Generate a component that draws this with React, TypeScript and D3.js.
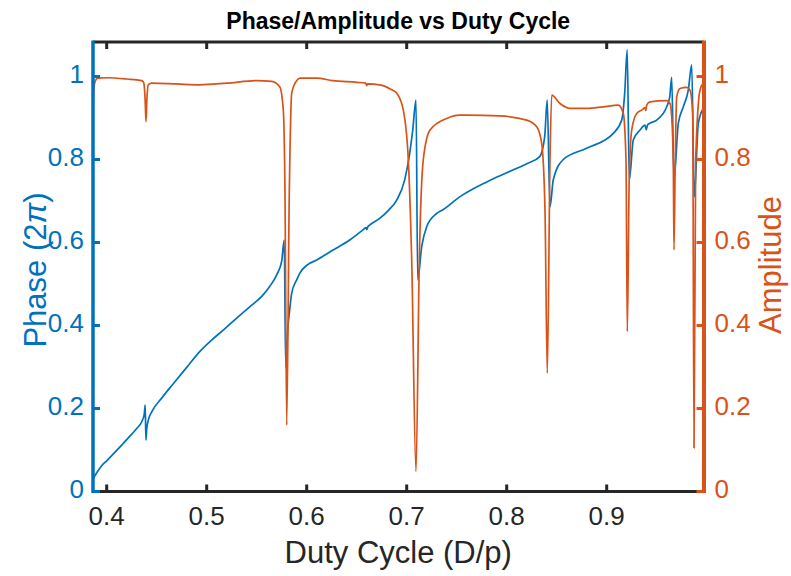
import React from "react";
import * as d3 from "d3";

const title = "Phase/Amplitude vs Duty Cycle";
const xLabel = "Duty Cycle (D/p)";
const xTicks = [0.4, 0.5, 0.6, 0.7, 0.8, 0.9];
const yTicks = [0, 0.2, 0.4, 0.6, 0.8, 1];
const yTickLabels = ["0", "0.2", "0.4", "0.6", "0.8", "1"];

// Phase (left axis, units of 2π)
const phaseData: [number, number][] = [
  [0.3863, 0.03], [0.39, 0.045], [0.395, 0.062], [0.4, 0.074], [0.41, 0.099],
  [0.42, 0.125], [0.43, 0.152], [0.435, 0.168], [0.4375, 0.185], [0.4385, 0.208],
  [0.4392, 0.124], [0.44, 0.15], [0.442, 0.175], [0.445, 0.192], [0.455, 0.225],
  [0.467, 0.261], [0.48, 0.299], [0.493, 0.337], [0.505, 0.365], [0.518, 0.392],
  [0.53, 0.418], [0.543, 0.445], [0.555, 0.47], [0.563, 0.494], [0.57, 0.522],
  [0.575, 0.555], [0.5775, 0.606], [0.579, 0.3], [0.581, 0.39], [0.5826, 0.429],
  [0.585, 0.478], [0.59, 0.51], [0.5933, 0.527], [0.6, 0.545], [0.61, 0.558],
  [0.625, 0.58], [0.643, 0.606], [0.655, 0.628], [0.6595, 0.636], [0.66, 0.631],
  [0.661, 0.637], [0.663, 0.642], [0.673, 0.658], [0.682, 0.678], [0.69, 0.702],
  [0.698, 0.751], [0.703, 0.815], [0.706, 0.87], [0.7093, 0.943], [0.711, 0.51],
  [0.715, 0.59], [0.72, 0.638], [0.73, 0.67], [0.737, 0.68], [0.753, 0.71],
  [0.78, 0.746], [0.8, 0.768], [0.82, 0.79], [0.833, 0.807], [0.838, 0.855],
  [0.8405, 0.943], [0.8433, 0.686], [0.8466, 0.751], [0.8566, 0.8], [0.88, 0.827],
  [0.9066, 0.863], [0.915, 0.895], [0.918, 0.96], [0.9205, 1.064], [0.9226, 0.751],
  [0.9266, 0.847], [0.9333, 0.871], [0.9383, 0.883], [0.9395, 0.872], [0.941, 0.884],
  [0.95, 0.895], [0.96, 0.927], [0.963, 0.95], [0.965, 0.998], [0.9673, 0.751],
  [0.9716, 0.887], [0.9766, 0.927], [0.9816, 0.967], [0.985, 1.028], [0.9876, 0.71],
  [0.9916, 0.887], [0.9966, 0.923],
];

// Amplitude (right axis)
const ampData: [number, number][] = [
  [0.3863, 0.94], [0.388, 0.985], [0.391, 0.996], [0.4, 0.997], [0.42, 0.994],
  [0.435, 0.99], [0.437, 0.985], [0.4385, 0.94], [0.4393, 0.891], [0.4402, 0.945],
  [0.4415, 0.98], [0.445, 0.984], [0.47, 0.982], [0.493, 0.98], [0.52, 0.984],
  [0.55, 0.99], [0.565, 0.988], [0.573, 0.975], [0.5766, 0.919], [0.5783, 0.72],
  [0.58, 0.16], [0.5826, 0.72], [0.585, 0.96], [0.59, 0.99], [0.5933, 0.996],
  [0.61, 0.996], [0.626, 0.99], [0.65, 0.986], [0.659, 0.984], [0.66, 0.978],
  [0.661, 0.982], [0.673, 0.98], [0.685, 0.968], [0.69, 0.96], [0.6966, 0.919],
  [0.7016, 0.8], [0.705, 0.558], [0.7093, 0.048], [0.7126, 0.558], [0.7166, 0.8],
  [0.7233, 0.871], [0.74, 0.899], [0.753, 0.907], [0.76, 0.907], [0.793, 0.905],
  [0.82, 0.895], [0.83, 0.879], [0.835, 0.839], [0.8383, 0.678], [0.8406, 0.285],
  [0.8433, 0.8], [0.845, 0.955], [0.8533, 0.935], [0.8633, 0.923], [0.88, 0.923],
  [0.8966, 0.927], [0.9116, 0.931], [0.9166, 0.911], [0.9193, 0.8], [0.9206, 0.385],
  [0.9225, 0.75], [0.925, 0.871], [0.93, 0.911], [0.935, 0.919], [0.9383, 0.925],
  [0.939, 0.918], [0.94, 0.931], [0.9433, 0.939], [0.96, 0.942], [0.9633, 0.935],
  [0.965, 0.903], [0.9666, 0.79], [0.9673, 0.582], [0.9685, 0.79], [0.97, 0.951],
  [0.9733, 0.971], [0.98, 0.974], [0.9833, 0.967], [0.986, 0.91], [0.9873, 0.105],
  [0.989, 0.8], [0.9933, 0.967], [0.9966, 0.984],
];

const BLUE = "#0072BD";
const ORANGE = "#D95319";
const DARK = "#262626";
const FONT = "'Liberation Sans', Arial, Helvetica, sans-serif";

export default function App() {
  const W = 791, H = 576;
  const left = 93, right = 703.5, top = 42, bottom = 491.5;
  const x = d3.scaleLinear().domain([0.3863, 0.9968]).range([left, right]);
  const yL = d3.scaleLinear().domain([0, 1.0831]).range([bottom, top]);
  const yR = d3.scaleLinear().domain([0, 1.0831]).range([bottom, top]);

  const linePhase = d3.line<[number, number]>()
    .x(d => x(d[0])).y(d => yL(d[1])).curve(d3.curveMonotoneX);
  const lineAmp = d3.line<[number, number]>()
    .x(d => x(d[0])).y(d => yR(d[1])).curve(d3.curveMonotoneX);

  const tickLen = 7;

  return (
    <svg width={W} height={H} style={{ position: "absolute", left: 0, top: 0, background: "#fff" }}
      fontFamily={FONT}>
      <rect x={0} y={0} width={W} height={H} fill="#fff" />
      <defs>
        <clipPath id="plotClip">
          <rect x={left} y={top} width={right - left} height={bottom - top} />
        </clipPath>
      </defs>
      <g clipPath="url(#plotClip)">
        <path d={linePhase(phaseData) || ""} fill="none" stroke={BLUE} strokeWidth={1.7} strokeLinejoin="round" />
        <path d={lineAmp(ampData) || ""} fill="none" stroke={ORANGE} strokeWidth={1.7} strokeLinejoin="round" />
      </g>

      {/* top & bottom axes */}
      <line x1={left} x2={right} y1={top} y2={top} stroke={DARK} strokeWidth={3} />
      <line x1={left} x2={right} y1={bottom} y2={bottom} stroke={DARK} strokeWidth={3} />
      {xTicks.map(t => (
        <g key={"xt" + t}>
          <line x1={x(t)} x2={x(t)} y1={bottom} y2={bottom - tickLen} stroke={DARK} strokeWidth={3} />
          <line x1={x(t)} x2={x(t)} y1={top} y2={top + tickLen} stroke={DARK} strokeWidth={3} />
          <text x={x(t)} y={bottom + 27} textAnchor="middle" dominantBaseline="middle"
            fontSize={26} fill={DARK}>{t.toFixed(1)}</text>
        </g>
      ))}

      {/* left axis */}
      <line x1={left} x2={left} y1={top - 1.5} y2={bottom + 1.5} stroke={BLUE} strokeWidth={3.5} />
      {yTicks.map((t, i) => (
        <g key={"yl" + t}>
          <line x1={left} x2={left + tickLen} y1={yL(t)} y2={yL(t)} stroke={BLUE} strokeWidth={3} />
          <text x={left - 9} y={yL(t)} textAnchor="end" dominantBaseline="middle"
            fontSize={26} fill={BLUE}>{yTickLabels[i]}</text>
        </g>
      ))}

      {/* right axis */}
      <line x1={right + 0.5} x2={right + 0.5} y1={top - 1.5} y2={bottom + 1.5} stroke={ORANGE} strokeWidth={4} />
      {yTicks.map((t, i) => (
        <g key={"yr" + t}>
          <line x1={right} x2={right - tickLen} y1={yR(t)} y2={yR(t)} stroke={ORANGE} strokeWidth={3} />
          <text x={right + 11} y={yR(t)} textAnchor="start" dominantBaseline="middle"
            fontSize={26} fill={ORANGE}>{yTickLabels[i]}</text>
        </g>
      ))}

      {/* labels */}
      <text x={(left + right) / 2} y={29} textAnchor="middle" fontSize={23} fontWeight="bold" fill="#000">{title}</text>
      <text x={(left + right) / 2} y={563} textAnchor="middle" fontSize={31} fill={DARK}>{xLabel}</text>
      <text transform={`translate(46, 270) rotate(-90)`} textAnchor="middle"
        fontSize={31} fill={BLUE}>Phase (2<tspan fontStyle="italic">π</tspan>)</text>
      <text transform={`translate(781, 265) rotate(-90)`} textAnchor="middle"
        fontSize={31} fill={ORANGE}>Amplitude</text>
    </svg>
  );
}
